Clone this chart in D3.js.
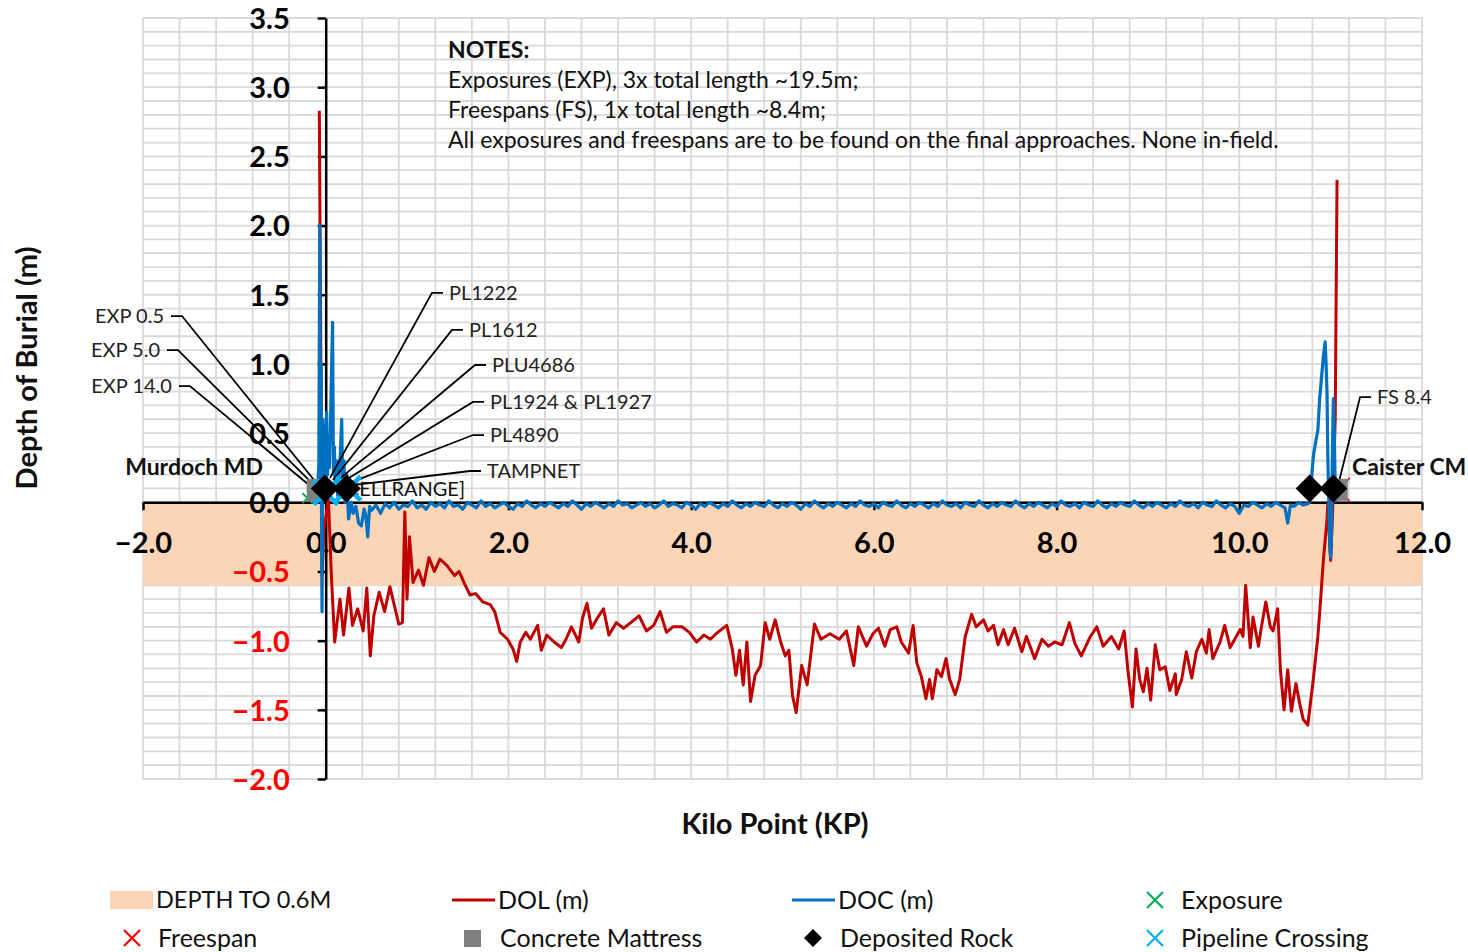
<!DOCTYPE html>
<html><head><meta charset="utf-8">
<script src="https://cdn.jsdelivr.net/npm/d3@7"></script>
<style>body{margin:0;background:#fff;} svg{display:block;font-family:Lato,'Open Sans',sans-serif;}</style>
</head><body><svg id="c" width="1468" height="952"></svg>
<script>
// ---------- DATA ----------
const xDomain = [-2, 12];
const yDomain = [-2, 3.5];
const xTicks = [-2, 0, 2, 4, 6, 8, 10, 12];
const yTicks = [-2, -1.5, -1, -0.5, 0, 0.5, 1, 1.5, 2, 2.5, 3, 3.5];
const bandRange = [0, -0.6];

// DOL (m) [KP, value]
const dol = [
[-0.07,2.83],[-0.055,1.2],[-0.04,-0.53],[-0.02,-0.2],[0.03,0.02],[0.06,-0.5],[0.098,-1.01],
[0.156,-0.70],[0.195,-0.96],[0.254,-0.62],[0.293,-0.89],[0.35,-0.77],[0.41,-0.93],[0.45,-0.62],
[0.488,-1.11],[0.527,-0.82],[0.585,-0.65],[0.644,-0.79],[0.703,-0.61],[0.76,-0.77],[0.80,-0.88],
[0.84,-0.87],[0.866,-0.07],[0.89,-0.70],[0.917,-0.25],[0.956,-0.58],[1.015,-0.49],[1.07,-0.60],
[1.13,-0.40],[1.19,-0.50],[1.25,-0.41],[1.33,-0.46],[1.41,-0.53],[1.46,-0.50],[1.52,-0.59],
[1.58,-0.67],[1.64,-0.66],[1.72,-0.72],[1.80,-0.74],[1.85,-0.79],[1.91,-0.94],[1.99,-0.99],
[2.05,-1.06],[2.09,-1.15],[2.13,-1.01],[2.19,-0.94],[2.24,-0.99],[2.32,-0.89],[2.36,-1.07],
[2.42,-0.96],[2.50,-1.01],[2.58,-1.05],[2.63,-0.99],[2.69,-0.90],[2.77,-1.01],[2.81,-0.84],
[2.86,-0.73],[2.91,-0.91],[2.97,-0.84],[3.04,-0.77],[3.10,-0.96],[3.18,-0.87],[3.26,-0.91],
[3.34,-0.87],[3.43,-0.82],[3.51,-0.93],[3.59,-0.89],[3.66,-0.79],[3.73,-0.94],[3.80,-0.90],
[3.90,-0.90],[3.98,-0.94],[4.06,-1.01],[4.14,-0.96],[4.21,-0.99],[4.29,-0.94],[4.39,-0.89],
[4.45,-1.06],[4.49,-1.25],[4.53,-1.07],[4.57,-1.32],[4.61,-1.01],[4.65,-1.44],[4.70,-1.25],
[4.76,-1.18],[4.81,-0.87],[4.86,-0.99],[4.92,-0.85],[4.98,-1.01],[5.03,-1.11],[5.07,-1.07],
[5.11,-1.40],[5.15,-1.52],[5.21,-1.18],[5.27,-1.32],[5.35,-0.88],[5.42,-0.99],[5.52,-0.95],
[5.62,-0.99],[5.70,-0.93],[5.78,-1.18],[5.83,-0.90],[5.92,-1.04],[5.99,-0.95],[6.05,-0.91],
[6.12,-1.04],[6.18,-0.92],[6.25,-0.90],[6.30,-1.01],[6.38,-1.09],[6.43,-0.89],[6.47,-1.16],
[6.52,-1.26],[6.57,-1.42],[6.61,-1.28],[6.64,-1.42],[6.69,-1.21],[6.74,-1.26],[6.79,-1.13],
[6.83,-1.28],[6.89,-1.39],[6.94,-1.28],[7.00,-0.97],[7.07,-0.81],[7.12,-0.90],[7.20,-0.85],
[7.25,-0.93],[7.31,-0.89],[7.36,-1.03],[7.42,-0.92],[7.47,-1.03],[7.54,-0.91],[7.62,-1.08],
[7.67,-0.97],[7.76,-1.13],[7.84,-0.99],[7.91,-1.04],[7.98,-1.01],[8.06,-1.03],[8.14,-0.87],
[8.20,-1.02],[8.27,-1.11],[8.37,-0.97],[8.44,-0.90],[8.51,-1.04],[8.60,-0.97],[8.68,-1.06],
[8.74,-0.93],[8.78,-1.21],[8.83,-1.48],[8.87,-1.06],[8.91,-1.28],[8.95,-1.37],[8.99,-1.20],
[9.03,-1.43],[9.08,-1.03],[9.13,-1.21],[9.19,-1.19],[9.24,-1.36],[9.30,-1.24],[9.31,-1.39],
[9.37,-1.28],[9.42,-1.08],[9.48,-1.27],[9.53,-1.08],[9.59,-0.99],[9.64,-1.09],[9.67,-0.92],
[9.71,-1.13],[9.79,-1.01],[9.84,-0.89],[9.90,-1.05],[9.95,-0.99],[10.01,-0.92],[10.04,-0.97],
[10.07,-0.60],[10.12,-1.05],[10.15,-0.83],[10.21,-1.04],[10.24,-0.91],[10.29,-0.72],[10.34,-0.90],
[10.37,-0.93],[10.42,-0.77],[10.45,-1.21],[10.49,-1.50],[10.53,-1.21],[10.57,-1.51],[10.62,-1.31],
[10.66,-1.45],[10.70,-1.57],[10.75,-1.61],[10.81,-1.28],[10.86,-0.97],[10.88,-0.80],[10.92,-0.42],
[10.96,-0.13],[10.97,0.0],[10.99,-0.30],[11.00,-0.42],[11.02,-0.10],[11.05,0.60],[11.07,2.33]
];

// DOC (m) [KP, value]
const doc = [
[-0.09,0.0],[-0.075,0.3],[-0.065,2.0],[-0.058,0.2],[-0.05,1.0],[-0.045,-0.3],[-0.04,-0.79],
[-0.035,0.4],[-0.03,0.6],[-0.02,0.3],[-0.01,0.55],[0.0,0.1],[0.01,0.65],[0.02,0.2],[0.03,0.45],
[0.04,0.25],[0.05,0.5],[0.075,1.3],[0.085,0.2],[0.095,0.4],[0.105,0.1],[0.12,0.3],[0.13,0.05],
[0.16,0.35],[0.175,0.6],[0.185,0.15],[0.2,0.3],[0.21,0.0],[0.23,0.2],[0.25,-0.12],[0.28,0.0],
[0.3,-0.08],[0.33,-0.03],[0.36,-0.15],[0.39,-0.17],[0.42,-0.05],[0.44,-0.1],[0.46,-0.25],[0.48,-0.03],
[0.50,-0.06],[0.55,-0.02],[0.60,-0.08],[0.65,-0.01],[0.70,-0.04],[0.75,0.00],[0.80,-0.05],[0.85,-0.02],
[0.90,-0.03],[0.95,0.01],[1.00,-0.04],[1.05,-0.02],[1.10,-0.05],[1.15,0.00],[1.20,-0.03],[1.25,-0.01],
[1.30,-0.04],[1.35,0.01],[1.40,-0.03],[1.45,-0.02],[1.50,-0.05],[1.55,0.00],[1.60,-0.02],[1.65,-0.04],
[1.70,0.01],[1.75,-0.03],[1.80,-0.01],[1.85,-0.04],[1.90,-0.02],[1.95,0.00],[2.00,-0.03],[2.05,-0.05],
[2.10,-0.01],[2.15,-0.03],[2.20,0.01],[2.25,-0.02],[2.30,-0.04],[2.35,-0.01],[2.40,-0.03],[2.45,0.00],
[2.50,-0.02],[2.55,-0.04],[2.60,-0.01],[2.65,-0.03],[2.70,0.01],[2.75,-0.02],[2.80,-0.05],[2.85,-0.01],
[2.90,-0.03],[2.95,0.00],[3.00,-0.02],[3.05,-0.04],[3.10,-0.01],[3.15,-0.03],[3.20,0.01],[3.25,-0.02],
[3.30,-0.01],[3.35,-0.04],[3.40,-0.02],[3.45,0.00],[3.50,-0.03],[3.55,-0.01],[3.60,-0.04],[3.65,-0.02],
[3.70,0.01],[3.75,-0.03],[3.80,-0.01],[3.85,-0.02],[3.90,-0.04],[3.95,0.00],[4.00,-0.02],[4.05,-0.05],
[4.10,-0.01],[4.15,-0.03],[4.20,0.00],[4.25,-0.02],[4.30,-0.04],[4.35,-0.01],[4.40,-0.03],[4.45,0.01],
[4.50,-0.02],[4.55,-0.04],[4.60,-0.01],[4.65,-0.03],[4.70,0.00],[4.75,-0.02],[4.80,-0.03],[4.85,0.01],
[4.90,-0.02],[4.95,-0.04],[5.00,-0.01],[5.05,-0.03],[5.10,0.00],[5.15,-0.02],[5.20,-0.05],[5.25,-0.01],
[5.30,-0.03],[5.35,0.01],[5.40,-0.02],[5.45,-0.04],[5.50,-0.01],[5.55,-0.03],[5.60,0.00],[5.65,-0.02],
[5.70,-0.04],[5.75,-0.01],[5.80,-0.03],[5.85,0.01],[5.90,-0.02],[5.95,-0.03],[6.00,-0.01],[6.05,-0.04],
[6.10,0.00],[6.15,-0.02],[6.20,-0.03],[6.25,0.01],[6.30,-0.02],[6.35,-0.04],[6.40,-0.01],[6.45,-0.03],
[6.50,0.00],[6.55,-0.02],[6.60,-0.04],[6.65,-0.01],[6.70,-0.03],[6.75,0.01],[6.80,-0.02],[6.85,-0.03],
[6.90,-0.01],[6.95,-0.04],[7.00,0.00],[7.05,-0.02],[7.10,-0.03],[7.15,0.01],[7.20,-0.02],[7.25,-0.04],
[7.30,-0.01],[7.35,-0.03],[7.40,0.00],[7.45,-0.02],[7.50,-0.03],[7.55,0.01],[7.60,-0.02],[7.65,-0.04],
[7.70,-0.01],[7.75,-0.03],[7.80,0.00],[7.85,-0.02],[7.90,-0.04],[7.95,-0.01],[8.00,-0.03],[8.05,0.01],
[8.10,-0.02],[8.15,-0.03],[8.20,-0.01],[8.25,-0.04],[8.30,0.00],[8.35,-0.02],[8.40,-0.03],[8.45,0.01],
[8.50,-0.02],[8.55,-0.04],[8.60,-0.01],[8.65,-0.03],[8.70,0.00],[8.75,-0.02],[8.80,-0.03],[8.85,0.01],
[8.90,-0.02],[8.95,-0.04],[9.00,-0.01],[9.05,-0.03],[9.10,0.00],[9.15,-0.02],[9.20,-0.04],[9.25,-0.01],
[9.30,-0.03],[9.35,0.01],[9.40,-0.02],[9.45,-0.03],[9.50,-0.01],[9.55,-0.04],[9.60,0.00],[9.65,-0.02],
[9.70,-0.03],[9.75,0.01],[9.80,-0.02],[9.85,-0.04],[9.90,-0.01],[9.95,-0.03],[10.00,-0.08],[10.05,-0.02],
[10.10,-0.03],[10.15,0.00],[10.20,-0.02],[10.25,-0.04],[10.30,-0.01],[10.35,-0.03],[10.40,0.00],[10.45,-0.02],
[10.50,-0.04],[10.53,-0.15],[10.56,-0.02],[10.60,-0.03],[10.65,0.00],[10.70,-0.02],[10.75,-0.01],
[10.77,0.0],[10.81,0.33],[10.84,0.45],[10.86,0.52],[10.88,0.75],[10.90,0.90],[10.92,1.05],[10.94,1.16],
[10.95,1.0],[10.96,0.8],[10.97,0.3],[10.98,0.0],[10.99,-0.3],[11.0,-0.4],[11.01,-0.2],[11.02,0.4],
[11.03,0.75],[11.04,0.5],[11.05,0.1],[11.06,0.0]
];

const exposure = [[-0.20,0.03],[-0.15,0.05],[-0.11,0.06]];
const freespan = [[11.10,0.09]];
const concreteMattress = [[-0.12,0.09],[11.10,0.09]];
const depositedRock = [[-0.01,0.10],[0.23,0.10],[10.77,0.10],[11.03,0.10]];
const pipelineCrossing = [[0.0,0.07],[0.25,0.10]];

// Leader-line labels: text, anchor [KP, value], elbow [KP, value], side
const leaderLabels = [
  {text:"EXP 0.5", anchor:[-0.084,0.125], elbow:[-1.573,1.346], side:"left"},
  {text:"EXP 5.0", anchor:[-0.095,0.103], elbow:[-1.617,1.100], side:"left"},
  {text:"EXP 14.0", anchor:[-0.117,0.089], elbow:[-1.486,0.840], side:"left"},
  {text:"PL1222", anchor:[0.047,0.176], elbow:[1.163,1.514], side:"right"},
  {text:"PL1612", anchor:[0.080,0.161], elbow:[1.382,1.246], side:"right"},
  {text:"PLU4686", anchor:[0.113,0.147], elbow:[1.634,0.992], side:"right"},
  {text:"PL1924 & PL1927", anchor:[0.146,0.132], elbow:[1.612,0.725], side:"right"},
  {text:"PL4890", anchor:[0.178,0.118], elbow:[1.612,0.486], side:"right"},
  {text:"TAMPNET", anchor:[0.025,0.103], elbow:[1.58,0.226], side:"right"},
  {text:"FS 8.4", anchor:[11.093,0.154], elbow:[11.322,0.76], side:"right"}
];
const pointLabels = [
  {text:"Murdoch MD", at:[-0.686,0.255], anchor:"end", bold:true},
  {text:"Caister CM", at:[11.235,0.255], anchor:"start", bold:true},
  {text:"[CELLRANGE]", at:[0.16,0.095], anchor:"start", bold:false}
];
const notes = ["NOTES:",
  "Exposures (EXP), 3x total length ~19.5m;",
  "Freespans (FS), 1x total length ~8.4m;",
  "All exposures and freespans are to be found on the final approaches. None in-field."];

// ---------- CHART ----------
const svg = d3.select("#c");
const pL=143, pR=1422, pT=18, pB=779;
const x = d3.scaleLinear().domain(xDomain).range([pL,pR]);
const y = d3.scaleLinear().domain(yDomain).range([pB,pT]);

// gridlines
const grid = svg.append("g").attr("stroke","#d9d9d9").attr("stroke-width",1.8);
grid.selectAll("line.v").data(d3.range(0,36).map(i=>xDomain[0]+i*0.4)).join("line").attr("class","v")
  .attr("x1",d=>x(d)).attr("x2",d=>x(d)).attr("y1",pT).attr("y2",pB);
grid.selectAll("line.h").data(d3.range(0,56).map(i=>yDomain[0]+i*0.1)).join("line").attr("class","h")
  .attr("x1",pL).attr("x2",pR).attr("y1",d=>y(d)).attr("y2",d=>y(d));

// band
svg.append("rect").attr("x",pL).attr("width",pR-pL)
  .attr("y",y(bandRange[0])).attr("height",y(bandRange[1])-y(bandRange[0]))
  .attr("fill","#fbd5b5");

// axes
const xAxis = d3.axisBottom(x).tickValues(xTicks).tickSize(8).tickSizeOuter(0).tickFormat(d3.format(".1f"));
const gx = svg.append("g").attr("transform",`translate(0,${y(0)})`).call(xAxis);
gx.select(".domain").attr("stroke","#000").attr("stroke-width",2.5);
gx.selectAll(".tick line").attr("stroke","#000").attr("stroke-width",2.5);
gx.selectAll(".tick text").attr("y",51).attr("dy",0).attr("fill","#000")
  .style("font-size","29px").style("font-weight","bold").style("font-family","Lato");

const yAxis = d3.axisLeft(y).tickValues(yTicks).tickSize(8).tickSizeOuter(0).tickFormat(d3.format(".1f"));
const gy = svg.append("g").attr("transform",`translate(${x(0)},0)`).call(yAxis);
gy.select(".domain").attr("stroke","#000").attr("stroke-width",2.5);
gy.selectAll(".tick line").attr("stroke","#000").attr("stroke-width",2.5);
gy.selectAll(".tick text").attr("x",-36).attr("dy","0.36em")
  .attr("fill",d=>d<0?"#ff0000":"#000")
  .style("font-size","29px").style("font-weight","bold").style("font-family","Lato");

// lines
const line = d3.line().x(d=>x(d[0])).y(d=>y(d[1]));
svg.append("path").datum(dol).attr("d",line).attr("fill","none")
  .attr("stroke","#c00000").attr("stroke-width",3).attr("stroke-linejoin","round");
svg.append("path").datum(doc).attr("d",line).attr("fill","none")
  .attr("stroke","#0070c0").attr("stroke-width",3.2).attr("stroke-linejoin","round");

// leader lines
const lead = svg.append("g");
leaderLabels.forEach(Lb=>{
  const ax=x(Lb.anchor[0]), ay=y(Lb.anchor[1]), ex=x(Lb.elbow[0]), ey=y(Lb.elbow[1]);
  const hx = Lb.side==="left" ? ex-11 : ex+11;
  lead.append("path").attr("d",`M${ax},${ay}L${ex},${ey}L${hx},${ey}`)
    .attr("fill","none").attr("stroke","#000").attr("stroke-width",1.8);
  lead.append("text").attr("x", Lb.side==="left"? hx-7 : hx+6).attr("y",ey).attr("dy","0.35em")
    .attr("text-anchor", Lb.side==="left"?"end":"start")
    .style("font-size","20px").attr("fill","#222").text(Lb.text);
});

// point labels
pointLabels.forEach(P=>{
  svg.append("text").attr("x",x(P.at[0])).attr("y",y(P.at[1])).attr("dy","0.35em")
    .attr("text-anchor",P.anchor).style("font-size",P.bold?"23px":"20px")
    .style("font-weight",P.bold?"bold":"normal").attr("fill","#111").text(P.text);
});

// markers
svg.append("g").selectAll("path").data(exposure).join("path")
  .attr("transform",d=>`translate(${x(d[0])},${y(d[1])})`).attr("d","M-5,-5L5,5M-5,5L5,-5")
  .attr("stroke","#00b050").attr("stroke-width",2);
svg.append("g").selectAll("path").data(freespan).join("path")
  .attr("transform",d=>`translate(${x(d[0])},${y(d[1])})`).attr("d","M-10,-12L10,12M-10,12L10,-12")
  .attr("stroke","#ff0000").attr("stroke-width",1.5);
svg.append("g").selectAll("rect").data(concreteMattress).join("rect")
  .attr("x",d=>x(d[0])-8).attr("y",d=>y(d[1])-11).attr("width",16).attr("height",22).attr("fill","#7f7f7f");
svg.append("g").selectAll("path").data(pipelineCrossing).join("path")
  .attr("transform",d=>`translate(${x(d[0])},${y(d[1])})`).attr("d","M-12,-12L12,12M-12,12L12,-12")
  .attr("stroke","#00b0f0").attr("stroke-width",4.5);
svg.append("g").selectAll("path").data(depositedRock).join("path")
  .attr("transform",d=>`translate(${x(d[0])},${y(d[1])})`).attr("d","M0,-14L14,0L0,14L-14,0Z")
  .attr("fill","#000");

// axis titles
svg.append("text").attr("transform","translate(37,368) rotate(-90)").attr("text-anchor","middle")
  .style("font-size","29px").style("font-weight","bold").attr("fill","#111").text("Depth of Burial (m)");
svg.append("text").attr("x",775).attr("y",834).attr("text-anchor","middle")
  .style("font-size","29px").style("font-weight","bold").attr("fill","#111").text("Kilo Point (KP)");

// notes
svg.append("g").selectAll("text").data(notes).join("text")
  .attr("x",448).attr("y",(d,i)=>58+i*30).style("font-size","23px")
  .style("font-weight",(d,i)=>i===0?"bold":"normal").attr("fill","#111").text(d=>d);

// legend
const lg = svg.append("g").style("font-size","25px").attr("fill","#111");
const legendItems = [
  {label:"DEPTH TO 0.6M", type:"band", x:110, y:900, fs:23.5},
  {label:"DOL (m)", type:"line", color:"#c00000", x:452, y:900},
  {label:"DOC (m)", type:"line", color:"#0070c0", x:792, y:900},
  {label:"Exposure", type:"x", color:"#00b050", x:1135, y:900},
  {label:"Freespan", type:"x", color:"#ff0000", x:112, y:938},
  {label:"Concrete Mattress", type:"square", color:"#7f7f7f", x:454, y:938},
  {label:"Deposited Rock", type:"diamond", color:"#000", x:794, y:938},
  {label:"Pipeline Crossing", type:"x", color:"#00b0f0", x:1135, y:938}
];
legendItems.forEach(it=>{
  const g = lg.append("g").attr("transform",`translate(${it.x},${it.y})`);
  if(it.type==="band") g.append("rect").attr("x",0).attr("y",-9).attr("width",43).attr("height",18).attr("fill","#fbd5b5");
  if(it.type==="line") g.append("line").attr("x1",0).attr("x2",43).attr("stroke",it.color).attr("stroke-width",3);
  if(it.type==="x") g.append("path").attr("d","M12,-8L28,8M12,8L28,-8").attr("stroke",it.color).attr("stroke-width",2.2);
  if(it.type==="square") g.append("rect").attr("x",10).attr("y",-8).attr("width",17).attr("height",17).attr("fill",it.color);
  if(it.type==="diamond") g.append("path").attr("d","M19,-9L28,0L19,9L10,0Z").attr("fill",it.color);
  const t = g.append("text").attr("x",46).attr("dy","0.35em").text(it.label);
  if(it.fs) t.style("font-size",it.fs+"px");
});
</script></body></html>
